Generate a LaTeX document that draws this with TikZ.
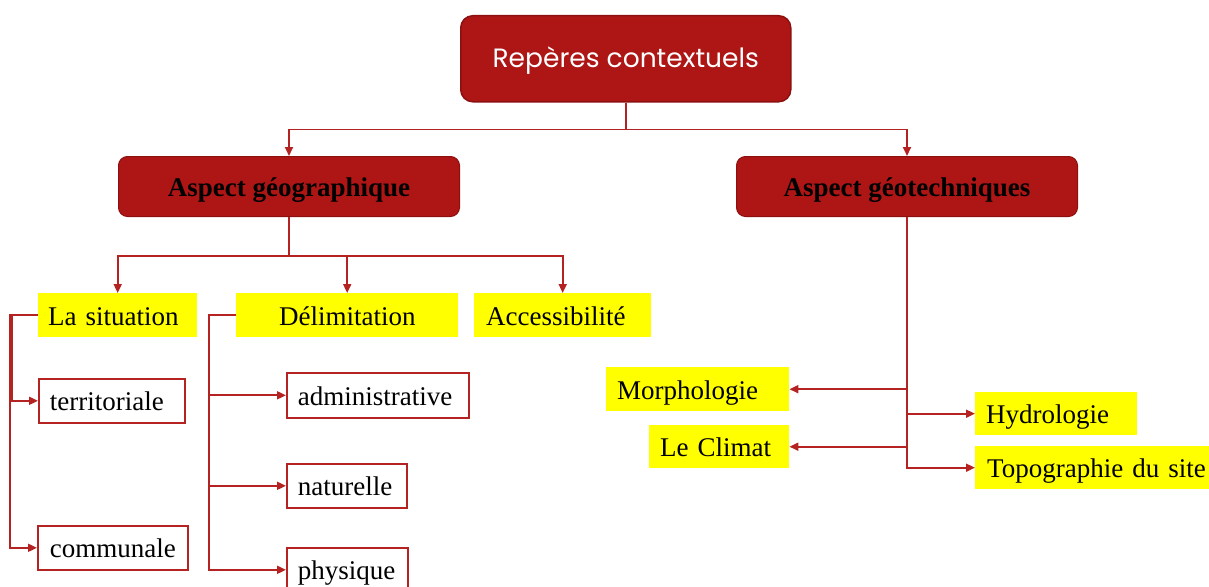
\documentclass[tikz,border=0pt]{standalone}
\usepackage{fontspec}
\setmainfont{Liberation Serif}
\newfontfamily\gothic{Poppins}
\usetikzlibrary{arrows.meta}

\definecolor{boxred}{HTML}{AE1616}
\definecolor{boxedge}{HTML}{8C1010}
\definecolor{linkred}{HTML}{B52222}
\definecolor{hilite}{HTML}{FFFF00}

\tikzset{
  conn/.style={draw=linkred, line width=1.8pt, -{Triangle[length=9pt,width=8pt]}},
  % generic box: placed by its top-left corner, text starts #3 pt from the left edge
  cbox/.style args={#1/#2/#3}{anchor=north west, minimum height=#2pt,
    text width=#1pt, inner xsep=0pt, inner ysep=0pt, align=left,
    execute at begin node={\hspace*{#3pt}},
    text height=22pt, text depth=2pt, font=\fontsize{27}{30}\selectfont},
  hibox/.style={fill=hilite, draw=none},
  outbox/.style={fill=white, draw=linkred, line width=1.6pt},
  headbox/.style={fill=boxred, draw=boxedge, line width=1pt, rounded corners=9pt,
    anchor=north west, inner sep=0pt, font=\fontsize{27}{30}\selectfont\bfseries,
    text height=22pt, text depth=2pt},
}

\begin{document}
\begin{tikzpicture}[x=1pt, y=-1pt]
\useasboundingbox (0,0) rectangle (1209,586);

% root
\node[fill=boxred, draw=boxedge, line width=1.5pt, rounded corners=12pt,
      anchor=north west, minimum width=330pt, minimum height=86pt, inner sep=0pt,
      text=white, font=\gothic\fontsize{26.5}{30}\selectfont,
      text height=22pt, text depth=4pt]
  (root) at (460,15) {Repères contextuels};

% second level
\node[headbox, minimum width=341pt, minimum height=60pt] (geo) at (118,156) {Aspect géographique};
\node[headbox, minimum width=341pt, minimum height=60pt] (tech) at (736,156) {Aspect géotechniques};

% geographic branch
\node[cbox=159/44/10, hibox] (sit) at (38,293) {La situation};
\node[cbox=222/44/43, hibox] (del) at (236,293) {Délimitation};
\node[cbox=177/44/12, hibox] (acc) at (474,293) {Accessibilité};

\node[cbox=146/44/11, outbox] (terr) at (38,378) {territoriale};
\node[cbox=150/44/12, outbox] (comm) at (37,525) {communale};

\node[cbox=182/45/11, outbox] (adm) at (286,372) {administrative};
\node[cbox=120/44/11, outbox] (nat) at (286,463) {naturelle};
\node[cbox=121/44/11, outbox] (phy) at (286,547) {physique};

% geotechnical branch
\node[cbox=183/44/11, hibox] (morph) at (606,367) {Morphologie};
\node[cbox=140/43/11, hibox] (clim) at (649,425) {Le Climat};
\node[cbox=162/43/11, hibox] (hydro) at (975,392) {Hydrologie};
\node[cbox=234/43/12, hibox] (topo) at (975,446) {Topographie du site};

% root to aspects
\draw[conn] (root.south) -- ++(0,27) -| (geo.north);
\draw[conn] (root.south) -- ++(0,27) -| (tech.north);

% aspect géographique to its three items
\draw[conn] (geo.south) -- ++(0,39) -| (sit.north);
\draw[conn] (geo.south) -- ++(0,39) -| (del.north);
\draw[conn] (geo.south) -- ++(0,39) -| (acc.north);

% la situation
\draw[conn] (sit.west) -- ++(-26,0) |- (terr.west);
\draw[conn] (sit.west) -- ++(-28,0) |- (comm.west);

% délimitation
\draw[conn] (del.west) -- ++(-27,0) |- (adm.west);
\draw[conn] (del.west) -- ++(-27,0) |- (nat.west);
\draw[conn] (del.west) -- ++(-27,0) |- (phy.west);

% aspect géotechniques
\draw[conn] (tech.south) |- (morph.east);
\draw[conn] (tech.south) |- (clim.east);
\draw[conn] (tech.south) |- (hydro.west);
\draw[conn] (tech.south) |- (topo.west);
\end{tikzpicture}
\end{document}
